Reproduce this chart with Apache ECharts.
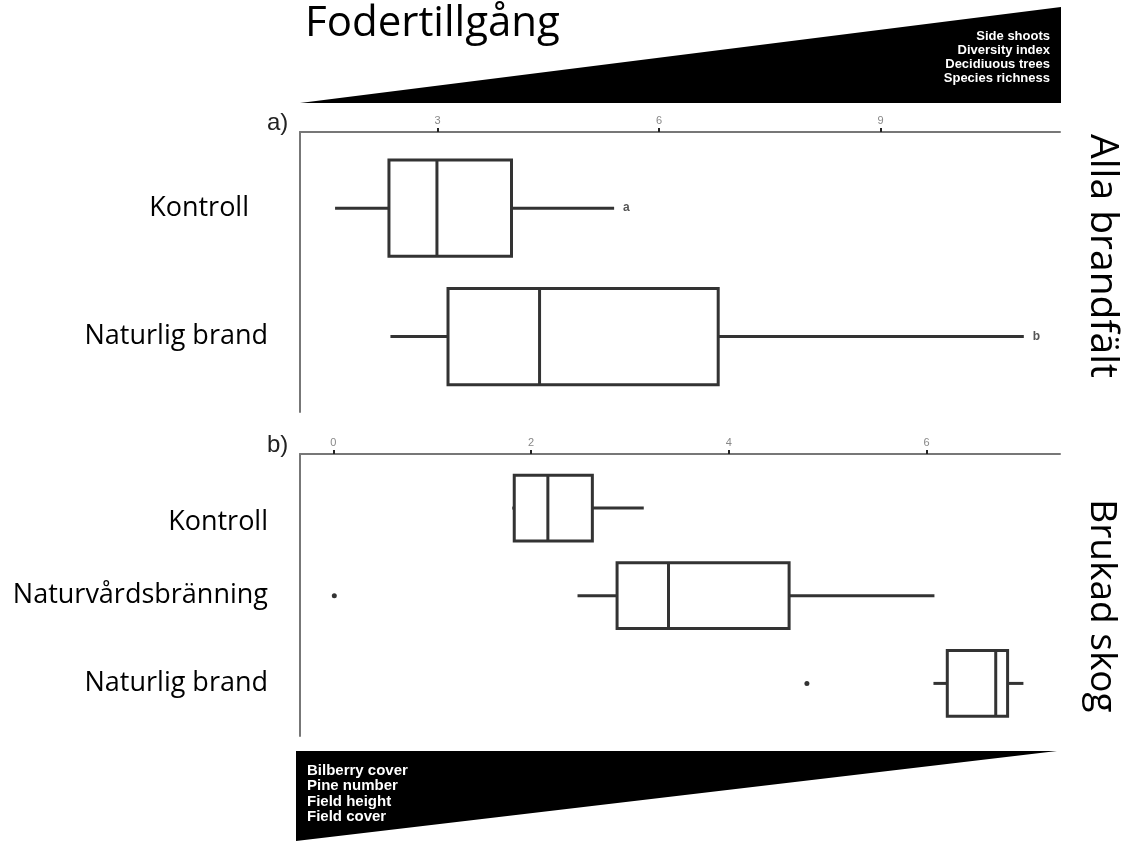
<!DOCTYPE html>
<html><head><meta charset="utf-8">
<script src="https://cdn.jsdelivr.net/npm/echarts@6/dist/echarts.min.js"></script>
<style>html,body{margin:0;padding:0;background:#fff}#c{width:1138px;height:843px}</style>
</head><body><div id="c"></div>
<script>
// ---------- data ----------
const titleText = 'Fodertillgång';
const panelTitles = ['Alla brandfält', 'Brukad skog'];
const panelLetters = ['a)', 'b)'];
const topGradientLabels = ['Side shoots', 'Diversity index', 'Decidiuous trees', 'Species richness'];
const bottomGradientLabels = ['Bilberry cover', 'Pine number', 'Field height', 'Field cover'];

// panel a
const catsA = ['Kontroll', 'Naturlig brand'];
// [min, Q1, median, Q3, max]
const boxA = [
  [1.61, 2.34, 2.99, 4.00, 5.39],
  [2.36, 3.14, 4.38, 6.80, 10.94]
];
const sigA = ['a', 'b'];
const ticksA = [3, 6, 9];

// panel b
const catsB = ['Kontroll', 'Naturvårdsbränning', 'Naturlig brand'];
const boxB = [
  [1.81, 1.83, 2.17, 2.62, 3.14],
  [2.47, 2.87, 3.39, 4.61, 6.08],
  [6.07, 6.21, 6.70, 6.82, 6.98]
];
// [value, category index]
const outliersB = [[0.01, 1], [4.79, 2]];
const ticksB = [0, 2, 4, 6];

// ---------- styles ----------
const BOX_FRAC = 0.75;
const LINE = '#333';
const AXIS = '#777';
const LABEL_FONT = '"Open Sans"';

function withIndex(arr) { return arr.map((v, i) => [i].concat(v)); }

function boxRender(letters) {
  return function (params, api) {
    const c = api.value(0);
    const p = i => api.coord([api.value(i), c]);
    const lo = p(1), q1 = p(2), md = p(3), q3 = p(4), hi = p(5);
    const h = api.size([0, BOX_FRAC])[1];
    const y = lo[1];
    const st = { stroke: LINE, lineWidth: 3, fill: null };
    const children = [
      { type: 'line', shape: { x1: lo[0], y1: y, x2: q1[0], y2: y }, style: st },
      { type: 'line', shape: { x1: q3[0], y1: y, x2: hi[0], y2: y }, style: st },
      { type: 'rect', shape: { x: q1[0], y: y - h / 2, width: q3[0] - q1[0], height: h },
        style: { stroke: LINE, lineWidth: 3, fill: '#fff' } },
      { type: 'line', shape: { x1: md[0], y1: y - h / 2, x2: md[0], y2: y + h / 2 }, style: st }
    ];
    if (letters) {
      children.push({ type: 'text', x: hi[0] + 9, y: y,
        style: { text: letters[params.dataIndex], fill: '#555',
          font: 'bold 12px "Liberation Sans"', align: 'left', verticalAlign: 'middle' } });
    }
    return { type: 'group', children };
  };
}

function xAxisOf(grid, min, max, ticks) {
  return {
    gridIndex: grid, type: 'value', position: 'top', min, max,
    axisLine: { onZero: false, lineStyle: { color: AXIS, width: 2 } },
    axisTick: { customValues: ticks, length: 4, lineStyle: { color: '#222', width: 2 } },
    axisLabel: { customValues: ticks, color: '#888', fontSize: 11, margin: 6,
      fontFamily: '"Liberation Sans"' },
    splitLine: { show: false }
  };
}

function yAxisOf(grid, min, max, cats, rich, richKey) {
  return {
    gridIndex: grid, type: 'value', inverse: true, min, max,
    axisLine: { show: true, onZero: false, lineStyle: { color: AXIS, width: 2 } },
    axisTick: { show: false },
    splitLine: { show: false },
    axisLabel: {
      customValues: cats.map((_, i) => i),
      margin: 32, fontSize: 27, fontFamily: LABEL_FONT, color: '#000',
      formatter: v => (v === richKey.index ? '{s|' + cats[v] + '}' : cats[v]),
      rich: { s: rich }
    }
  };
}

const chart = echarts.init(document.getElementById('c'));
chart.setOption({
  animation: false,
  grid: [
    { left: 300, width: 760, top: 132, height: 280 },
    { left: 300, width: 760, top: 454, height: 282 }
  ],
  xAxis: [
    xAxisOf(0, 1.135, 11.43, ticksA),
    xAxisOf(1, -0.337, 7.35, ticksB)
  ],
  yAxis: [
    yAxisOf(0, -0.593, 1.587, catsA,
      { fontSize: 27, fontFamily: LABEL_FONT, color: '#000', padding: [0, 19, 0, 0] }, { index: 0 }),
    yAxisOf(1, -0.617, 2.6, catsB,
      { fontSize: 27, fontFamily: LABEL_FONT, color: '#000', padding: [28, 0, 0, 0] }, { index: 0 })
  ],
  series: [
    { type: 'custom', xAxisIndex: 0, yAxisIndex: 0, data: withIndex(boxA),
      encode: { x: [1, 2, 3, 4, 5], y: 0 }, renderItem: boxRender(sigA), clip: false },
    { type: 'custom', xAxisIndex: 1, yAxisIndex: 1, data: withIndex(boxB),
      encode: { x: [1, 2, 3, 4, 5], y: 0 }, renderItem: boxRender(null), clip: false },
    { type: 'scatter', xAxisIndex: 1, yAxisIndex: 1, data: outliersB,
      symbol: 'circle', symbolSize: 5, itemStyle: { color: '#000' } }
  ],
  graphic: [
    { type: 'text', x: 305, y: 24,
      style: { text: titleText, font: '42px ' + LABEL_FONT, fill: '#000', verticalAlign: 'middle' } },
    { type: 'polygon', shape: { points: [[300, 103], [1061, 103], [1061, 7]] }, style: { fill: '#000' } },
    { type: 'text', x: 1050, y: 29.5,
      style: { text: topGradientLabels.join('\n'), fill: '#fff', align: 'right', verticalAlign: 'top',
        font: 'bold 13px "Liberation Sans Narrow", "Liberation Sans"', lineHeight: 14 } },
    { type: 'polygon', shape: { points: [[296, 751], [1057, 751], [296, 841]] }, style: { fill: '#000' } },
    { type: 'text', x: 307, y: 763,
      style: { text: bottomGradientLabels.join('\n'), fill: '#fff', align: 'left', verticalAlign: 'top',
        font: 'bold 15px "Liberation Sans Narrow", "Liberation Sans"', lineHeight: 15.5 } },
    { type: 'text', x: 267, y: 123,
      style: { text: panelLetters[0], font: '24px "Liberation Sans"', fill: '#222', verticalAlign: 'middle' } },
    { type: 'text', x: 267, y: 445,
      style: { text: panelLetters[1], font: '24px "Liberation Sans"', fill: '#222', verticalAlign: 'middle' } },
    { type: 'text', x: 1102, y: 256, rotation: -Math.PI / 2,
      style: { text: panelTitles[0], font: '39px ' + LABEL_FONT, fill: '#000', align: 'center', verticalAlign: 'middle' } },
    { type: 'text', x: 1102, y: 606, rotation: -Math.PI / 2,
      style: { text: panelTitles[1], font: '37px ' + LABEL_FONT, fill: '#000', align: 'center', verticalAlign: 'middle' } }
  ]
});
</script>
</body></html>
